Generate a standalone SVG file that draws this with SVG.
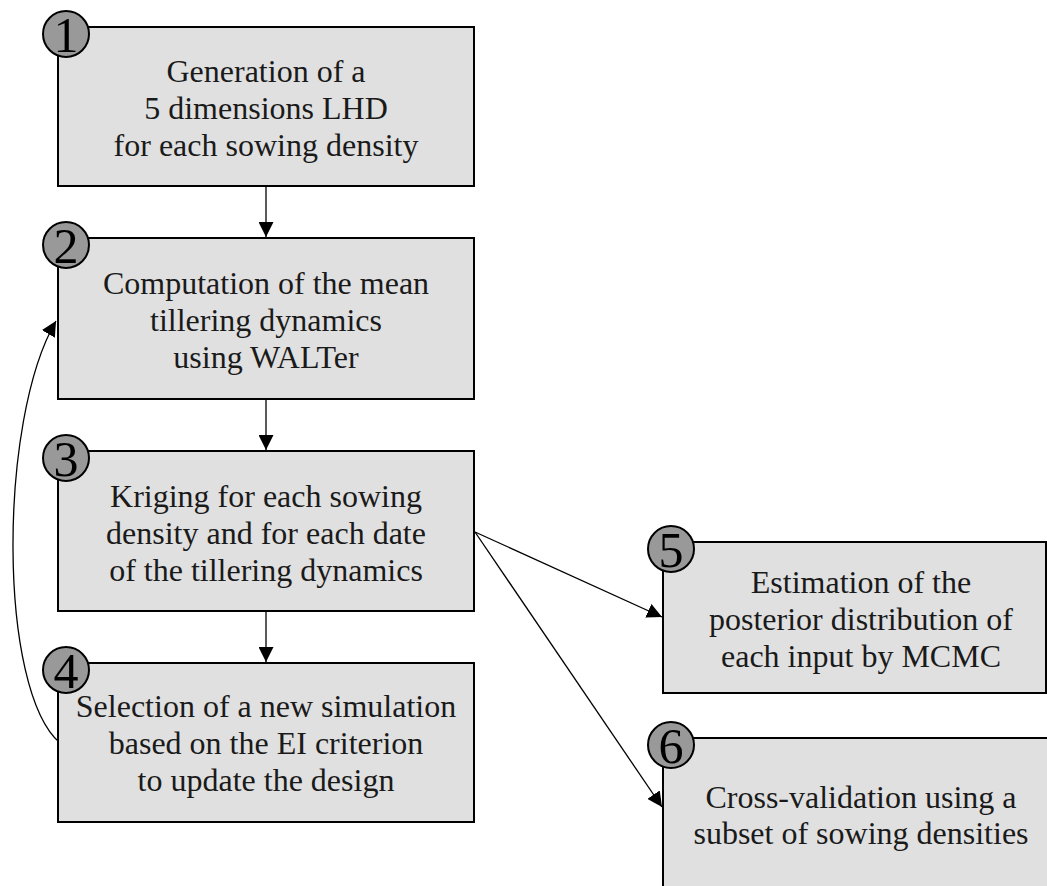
<svg xmlns="http://www.w3.org/2000/svg" width="1047" height="886" viewBox="0 0 1047 886">
<style>
.box{fill:#e0e0e0;stroke:#000;stroke-width:2}
.badge{fill:#999;stroke:#000;stroke-width:2}
.t{font-family:"Liberation Serif","Times New Roman",serif;font-size:32px;fill:#1a1a1a;text-anchor:middle}
.n{font-family:"Liberation Serif","Times New Roman",serif;font-size:50px;fill:#000;text-anchor:middle}
.c{fill:none;stroke:#000;stroke-width:1.3}
</style>
<defs>
<marker id="ah" viewBox="0 0 10 10" refX="10" refY="5" markerWidth="15" markerHeight="15" markerUnits="userSpaceOnUse" orient="auto">
<path d="M0,0 L10,5 L0,10 Z" fill="#000"/>
</marker>
</defs>
<rect width="1047" height="886" fill="#fff"/>
<g id="connectors">
<line class="c" x1="266" y1="186" x2="266" y2="237" marker-end="url(#ah)"/>
<line class="c" x1="266" y1="399" x2="266" y2="450" marker-end="url(#ah)"/>
<line class="c" x1="266" y1="611" x2="266" y2="662" marker-end="url(#ah)"/>
<line class="c" x1="475" y1="532" x2="662" y2="617" marker-end="url(#ah)"/>
<line class="c" x1="475" y1="532" x2="662" y2="807" marker-end="url(#ah)"/>
<path class="c" d="M60,743 C-2,690 -2,420 56,321" marker-end="url(#ah)"/>
</g>
<g id="node1">
<rect class="box" x="58" y="27" width="416" height="159"/>
<circle class="badge" cx="66" cy="34" r="23"/>
<text class="n" x="66" y="52">1</text>
<text class="t" x="266" y="82">Generation of a</text>
<text class="t" x="266" y="119">5 dimensions LHD</text>
<text class="t" x="266" y="156">for each sowing density</text>
</g>
<g id="node2">
<rect class="box" x="58" y="238" width="416" height="161"/>
<circle class="badge" cx="66" cy="245" r="23"/>
<text class="n" x="66" y="263">2</text>
<text class="t" x="266" y="294">Computation of the mean</text>
<text class="t" x="266" y="331">tillering dynamics</text>
<text class="t" x="266" y="368">using WALTer</text>
</g>
<g id="node3">
<rect class="box" x="58" y="451" width="416" height="160"/>
<circle class="badge" cx="66" cy="458" r="23"/>
<text class="n" x="66" y="476">3</text>
<text class="t" x="266" y="507">Kriging for each sowing</text>
<text class="t" x="266" y="544">density and for each date</text>
<text class="t" x="266" y="581">of the tillering dynamics</text>
</g>
<g id="node4">
<rect class="box" x="58" y="663" width="416" height="159"/>
<circle class="badge" cx="66" cy="670" r="23"/>
<text class="n" x="66" y="688">4</text>
<text class="t" x="266" y="717">Selection of a new simulation</text>
<text class="t" x="266" y="754">based on the EI criterion</text>
<text class="t" x="266" y="791">to update the design</text>
</g>
<g id="node5">
<rect class="box" x="663" y="542" width="383" height="151"/>
<circle class="badge" cx="671" cy="549" r="23"/>
<text class="n" x="671" y="567">5</text>
<text class="t" x="861" y="593">Estimation of the</text>
<text class="t" x="861" y="630">posterior distribution of</text>
<text class="t" x="861" y="667">each input by MCMC</text>
</g>
<g id="node6">
<rect class="box" x="663" y="738" width="400" height="170"/>
<circle class="badge" cx="671" cy="745" r="23"/>
<text class="n" x="671" y="763">6</text>
<text class="t" x="861" y="808">Cross-validation using a</text>
<text class="t" x="861" y="844">subset of sowing densities</text>
</g>
</svg>
